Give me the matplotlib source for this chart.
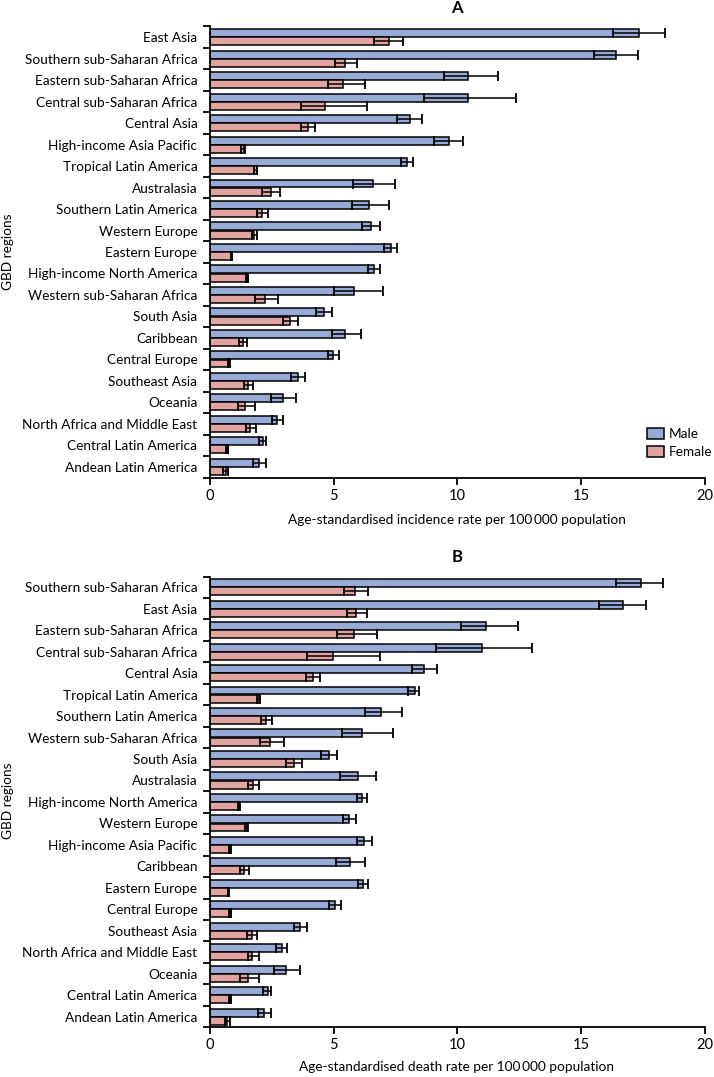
import numpy as np
import matplotlib
matplotlib.use("Agg")
import matplotlib.pyplot as plt
from matplotlib.patches import Patch

plt.rcParams['font.family'] = ['Lato', 'DejaVu Sans']

# panel A: incidence
regions_a = ["East Asia", "Southern sub-Saharan Africa", "Eastern sub-Saharan Africa",
             "Central sub-Saharan Africa", "Central Asia", "High-income Asia Pacific",
             "Tropical Latin America", "Australasia", "Southern Latin America",
             "Western Europe", "Eastern Europe", "High-income North America",
             "Western sub-Saharan Africa", "South Asia", "Caribbean", "Central Europe",
             "Southeast Asia", "Oceania", "North Africa and Middle East",
             "Central Latin America", "Andean Latin America"]
male_a = [17.33, 16.41, 10.45, 10.42, 8.10, 9.65, 7.98, 6.61, 6.42, 6.50, 7.30, 6.63,
          5.84, 4.62, 5.46, 4.99, 3.55, 2.95, 2.72, 2.16, 1.99]
male_a_lo = [16.28, 15.52, 9.48, 8.64, 7.58, 9.07, 7.73, 5.80, 5.76, 6.15, 7.05, 6.38,
             5.03, 4.30, 4.92, 4.76, 3.28, 2.47, 2.50, 1.99, 1.75]
male_a_hi = [18.39, 17.29, 11.64, 12.38, 8.58, 10.21, 8.21, 7.49, 7.24, 6.88, 7.58, 6.88,
             7.00, 4.92, 6.10, 5.20, 3.84, 3.49, 2.95, 2.28, 2.25]
female_a = [7.24, 5.47, 5.39, 4.65, 3.95, 1.36, 1.89, 2.47, 2.12, 1.79, 0.88, 1.52,
            2.22, 3.24, 1.35, 0.78, 1.55, 1.42, 1.64, 0.73, 0.65]
female_a_lo = [6.65, 5.06, 4.76, 3.67, 3.67, 1.24, 1.79, 2.12, 1.89, 1.71, 0.84, 1.47,
               1.83, 2.94, 1.16, 0.74, 1.39, 1.15, 1.46, 0.67, 0.54]
female_a_hi = [7.81, 5.93, 6.27, 6.34, 4.25, 1.40, 1.91, 2.83, 2.36, 1.89, 0.90, 1.55,
               2.74, 3.57, 1.51, 0.81, 1.74, 1.83, 1.87, 0.75, 0.74]

# panel B: deaths
regions_b = ["Southern sub-Saharan Africa", "East Asia", "Eastern sub-Saharan Africa",
             "Central sub-Saharan Africa", "Central Asia", "Tropical Latin America",
             "Southern Latin America", "Western sub-Saharan Africa", "South Asia",
             "Australasia", "High-income North America", "Western Europe",
             "High-income Asia Pacific", "Caribbean", "Eastern Europe", "Central Europe",
             "Southeast Asia", "North Africa and Middle East", "Oceania",
             "Central Latin America", "Andean Latin America"]
male_b = [17.42, 16.69, 11.17, 10.99, 8.66, 8.27, 6.93, 6.15, 4.83, 5.99, 6.15, 5.62,
          6.24, 5.65, 6.18, 5.07, 3.64, 2.90, 3.09, 2.33, 2.20]
male_b_lo = [16.42, 15.71, 10.15, 9.14, 8.16, 8.01, 6.26, 5.33, 4.50, 5.27, 5.93, 5.38,
             5.95, 5.11, 5.99, 4.83, 3.38, 2.68, 2.59, 2.16, 1.94]
male_b_hi = [18.33, 17.64, 12.46, 13.03, 9.16, 8.47, 7.77, 7.39, 5.12, 6.72, 6.34, 5.89,
             6.55, 6.27, 6.40, 5.31, 3.91, 3.13, 3.65, 2.45, 2.45]
female_b = [5.88, 5.92, 5.83, 4.99, 4.17, 1.97, 2.28, 2.44, 3.40, 1.75, 1.17, 1.48,
            0.82, 1.39, 0.75, 0.84, 1.69, 1.72, 1.52, 0.81, 0.69]
female_b_lo = [5.43, 5.53, 5.14, 3.94, 3.87, 1.91, 2.05, 2.04, 3.07, 1.55, 1.12, 1.41,
               0.79, 1.23, 0.73, 0.78, 1.50, 1.52, 1.21, 0.77, 0.61]
female_b_hi = [6.37, 6.36, 6.77, 6.87, 4.45, 2.03, 2.52, 3.01, 3.73, 1.97, 1.20, 1.52,
               0.84, 1.58, 0.78, 0.86, 1.89, 1.98, 1.97, 0.84, 0.82]

male_col = '#9aaad6'
female_col = '#e2a4a2'

W, H = 714, 1077
fig = plt.figure(figsize=(W / 100, H / 100), dpi=100)
ax_a = fig.add_axes([0.294, 0.5566, 0.693, 0.4188])
ax_b = fig.add_axes([0.294, 0.0461, 0.693, 0.4186])

fs = 9.8


def draw(ax, regions, m, mlo, mhi, f, flo, fhi):
    n = len(regions)
    y = np.arange(n)
    h = 0.37
    m = np.array(m); f = np.array(f)
    ax.barh(y - 0.19, m, height=h, color=male_col, edgecolor='black', linewidth=1.1, zorder=2)
    ax.barh(y + 0.19, f, height=h, color=female_col, edgecolor='black', linewidth=1.1, zorder=2)
    ax.errorbar(m, y - 0.19, xerr=[m - np.array(mlo), np.array(mhi) - m], fmt='none',
                ecolor='black', elinewidth=1.1, capsize=3.5, capthick=1.3, zorder=3)
    ax.errorbar(f, y + 0.19, xerr=[f - np.array(flo), np.array(fhi) - f], fmt='none',
                ecolor='black', elinewidth=1.1, capsize=3.5, capthick=1.3, zorder=3)
    ax.set_ylim(n - 0.5, -0.5)
    ax.set_xlim(0, 20)
    ax.set_yticks(np.arange(n + 1) - 0.5)
    ax.set_yticklabels([])
    ax.set_yticks(y, labels=regions, minor=True)
    ax.tick_params(axis='y', which='minor', length=0, labelsize=fs, pad=9)
    ax.tick_params(axis='y', which='major', length=5, width=1.3)
    ax.set_xticks([0, 5, 10, 15, 20])
    ax.tick_params(axis='x', length=5, width=1.3, labelsize=10.5, pad=3)
    for s in ['top', 'right']:
        ax.spines[s].set_visible(False)
    for s in ['left', 'bottom']:
        ax.spines[s].set_linewidth(1.3)


draw(ax_a, regions_a, male_a, male_a_lo, male_a_hi, female_a, female_a_lo, female_a_hi)
draw(ax_b, regions_b, male_b, male_b_lo, male_b_hi, female_b, female_b_lo, female_b_hi)

# panel letters, axis labels
fig.text(457 / W, 1 - 8 / H, 'A', ha='center', va='center', fontsize=12, fontweight='bold')
fig.text(457 / W, 1 - 557 / H, 'B', ha='center', va='center', fontsize=12, fontweight='bold')
fig.text(457 / W, 1 - 520 / H, 'Age-standardised incidence rate per 100\u2009000 population',
         ha='center', va='center', fontsize=fs)
fig.text(457 / W, 1 - 1067 / H, 'Age-standardised death rate per 100\u2009000 population',
         ha='center', va='center', fontsize=fs)
fig.text(8 / W, 1 - 252 / H, 'GBD regions', rotation=90, ha='center', va='center', fontsize=fs)
fig.text(8 / W, 1 - 801 / H, 'GBD regions', rotation=90, ha='center', va='center', fontsize=fs)

handles = [Patch(facecolor=male_col, edgecolor='black', linewidth=1.1, label='Male'),
           Patch(facecolor=female_col, edgecolor='black', linewidth=1.1, label='Female')]
ax_a.legend(handles=handles, loc='upper left', bbox_to_anchor=(647 / W, 1 - 428 / H),
            bbox_transform=fig.transFigure, borderaxespad=0, borderpad=0, frameon=False,
            fontsize=9.8, handlelength=1.25, handleheight=0.85, handletextpad=0.35,
            labelspacing=0.45)

fig.savefig('out.png', dpi=100)
